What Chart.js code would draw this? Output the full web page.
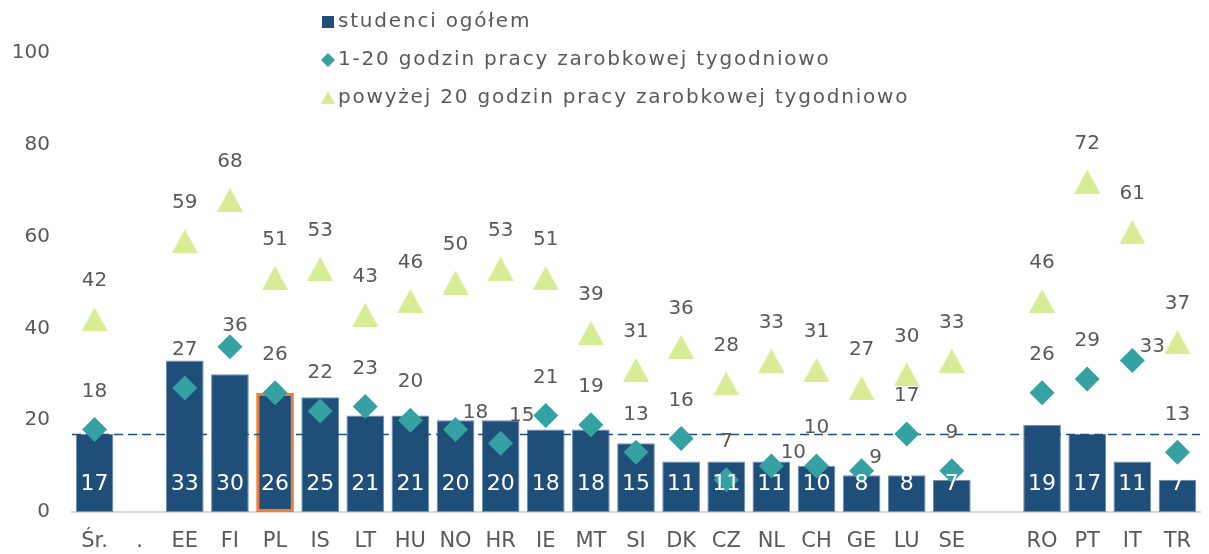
<!DOCTYPE html>
<html lang="pl">
<head>
<meta charset="utf-8">
<title>Studenci pracujący zarobkowo</title>
<script src="https://cdn.jsdelivr.net/npm/chart.js@4.4.1/dist/chart.umd.min.js"></script>
<style>
  html, body { margin: 0; padding: 0; background: #fff; overflow: hidden; }
  #wrap { width: 1213px; height: 554px; position: relative; }
</style>
</head>
<body>
<div id="wrap"><canvas id="wykres"></canvas></div>
<script>
// dane: odsetek studentów pracujących zarobkowo wg kraju
const kraje = ['Śr.', '.', 'EE', 'FI', 'PL', 'IS', 'LT', 'HU', 'NO', 'HR', 'IE', 'MT', 'SI', 'DK', 'CZ', 'NL', 'CH', 'GE', 'LU', 'SE', '', 'RO', 'PT', 'IT', 'TR'];
const studenciOgolem = [17, null, 33, 30, 26, 25, 21, 21, 20, 20, 18, 18, 15, 11, 11, 11, 10, 8, 8, 7, null, 19, 17, 11, 7];
const do20godzin = [18, null, 27, 36, 26, 22, 23, 20, 18, 15, 21, 19, 13, 16, 7, 10, 10, 9, 17, 9, null, 26, 29, 33, 13];
const ponad20godzin = [42, null, 59, 68, 51, 53, 43, 46, 50, 53, 51, 39, 31, 36, 28, 33, 31, 27, 30, 33, null, 46, 72, 61, 37];
const osY = [0, 20, 40, 60, 80, 100];
const sredniaOgolem = studenciOgolem[0];
const wyroznionyKraj = 'PL';

const nazwySerii = ['studenci ogółem', '1-20 godzin pracy zarobkowej tygodniowo', 'powyżej 20 godzin pracy zarobkowej tygodniowo'];

const GRANAT = '#1F4E79';
const TURKUS = '#35A1A3';
const SELEDYN = '#D8EC95';
const SZARY = '#595959';
const FONT = '"DejaVu Sans", sans-serif';

// etykiety rombów przesunięte w bok, żeby nie nachodziły na słupki
const przesuniecia = { FI: [5, -21], NO: [20, -17], HR: [21, -27], NL: [22, -13], GE: [14, -13], IT: [20, -14] };

function trojkat(w, h, kolor) {
    const c = document.createElement('canvas');
    c.width = w;
    c.height = h;
    const g = c.getContext('2d');
    g.fillStyle = kolor;
    g.beginPath();
    g.moveTo(w / 2, 0);
    g.lineTo(w, h);
    g.lineTo(0, h);
    g.closePath();
    g.fill();
    return c;
}

const liniaSredniej = {
    id: 'liniaSredniej',
    afterDatasetDraw(chart, args) {
        if (args.index !== 0) return;
        const { ctx, chartArea } = chart;
        const y = Math.round(chart.scales.y.getPixelForValue(sredniaOgolem)) + 0.5;
        ctx.save();
        ctx.strokeStyle = GRANAT;
        ctx.lineWidth = 1.5;
        ctx.setLineDash([9, 5]);
        ctx.beginPath();
        ctx.moveTo(chartArea.left, y);
        ctx.lineTo(chartArea.right, y);
        ctx.stroke();
        ctx.restore();
    }
};

const etykietyWartosci = {
    id: 'etykietyWartosci',
    afterDatasetsDraw(chart) {
        const ctx = chart.ctx;
        const y0 = chart.scales.y.getPixelForValue(0);
        ctx.save();
        ctx.textAlign = 'center';
        ctx.textBaseline = 'middle';
        chart.data.datasets.forEach((ds, i) => {
            const meta = chart.getDatasetMeta(i);
            meta.data.forEach((el, j) => {
                const v = ds.data[j];
                if (v == null) return;
                if (i === 0) {
                    ctx.fillStyle = '#ffffff';
                    ctx.font = '22px ' + FONT;
                    ctx.fillText(v, el.x, y0 - 28);
                } else {
                    const [dx, dy] = (i === 1 && przesuniecia[kraje[j]]) || [0, -38];
                    ctx.fillStyle = SZARY;
                    ctx.font = '20px ' + FONT;
                    ctx.fillText(v, el.x + dx, el.y + dy);
                }
            });
        });
        ctx.restore();
    }
};

const legendaPionowa = {
    id: 'legendaPionowa',
    afterDraw(chart) {
        const ctx = chart.ctx;
        const x = 328;
        ctx.save();
        nazwySerii.forEach((nazwa, i) => {
            const y = 22 + i * 38;
            if (i === 0) {
                ctx.fillStyle = GRANAT;
                ctx.fillRect(x - 6, y - 6, 12, 12);
            } else if (i === 1) {
                ctx.fillStyle = TURKUS;
                ctx.beginPath();
                ctx.moveTo(x, y - 7);
                ctx.lineTo(x + 7, y);
                ctx.lineTo(x, y + 7);
                ctx.lineTo(x - 7, y);
                ctx.closePath();
                ctx.fill();
            } else {
                ctx.fillStyle = SELEDYN;
                ctx.beginPath();
                ctx.moveTo(x, y - 7);
                ctx.lineTo(x + 7, y + 6);
                ctx.lineTo(x - 7, y + 6);
                ctx.closePath();
                ctx.fill();
            }
            ctx.fillStyle = SZARY;
            ctx.font = '20px ' + FONT;
            ctx.textAlign = 'left';
            ctx.textBaseline = 'middle';
            ctx.letterSpacing = '1.8px';
            ctx.fillText(nazwa, x + 10, y);
        });
        ctx.restore();
    }
};

const ctx = document.getElementById('wykres').getContext('2d');

// order: słupki pod spodem, romby na wierzchu
new Chart(ctx, {
    type: 'bar',
    data: {
        labels: kraje,
        datasets: [{
            label: nazwySerii[0],
            data: studenciOgolem,
            order: 2,
            backgroundColor: GRANAT,
            borderColor: kraje.map(k => k === wyroznionyKraj ? '#ED7D31' : '#6E8FAD'),
            borderWidth: kraje.map(k => k === wyroznionyKraj ? 3 : 1),
            borderSkipped: false,
            categoryPercentage: 1,
            barPercentage: 0.835
        }, {
            type: 'line',
            label: nazwySerii[1],
            data: do20godzin,
            order: 0,
            showLine: false,
            pointStyle: 'rectRot',
            pointRadius: 12.5,
            pointBackgroundColor: TURKUS,
            pointBorderWidth: 0
        }, {
            type: 'line',
            label: nazwySerii[2],
            data: ponad20godzin,
            order: 1,
            showLine: false,
            pointStyle: trojkat(26, 24, SELEDYN),
            pointRadius: 13,
            pointBorderWidth: 0
        }]
    },
    options: {
        responsive: true,
        maintainAspectRatio: false,
        animation: false,
        layout: { padding: { top: 53, right: 1, left: 0, bottom: 0 } },
        plugins: {
            legend: { display: false },
            tooltip: { enabled: false }
        },
        scales: {
            x: {
                grid: { display: false },
                border: { color: '#D9D9D9', width: 2 },
                ticks: { color: SZARY, font: { family: FONT, size: 21 }, padding: 9, autoSkip: false, maxRotation: 0 },
                afterFit(scale) { scale.height = 42; }
            },
            y: {
                min: 0,
                max: 100,
                grid: { display: false, drawTicks: false },
                border: { display: false },
                ticks: { color: SZARY, font: { family: FONT, size: 20 }, padding: 22 },
                afterBuildTicks(scale) { scale.ticks = osY.map(v => ({ value: v })); },
                afterFit(scale) { scale.width = 72; }
            }
        }
    },
    plugins: [liniaSredniej, etykietyWartosci, legendaPionowa]
});
</script>
</body>
</html>
